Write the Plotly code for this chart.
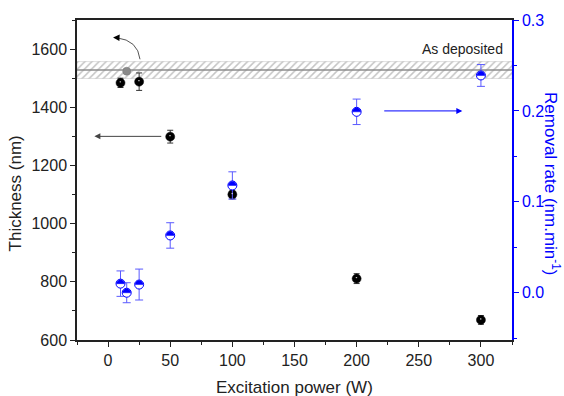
import plotly.graph_objects as go

# ---- data ----
power = [10, 25, 50, 100, 200, 300]
thickness = [1484, 1488, 1299, 1100, 811, 669]
thickness_err = [16, 30, 22, 15, 17, 15]

rate_power = [10, 15, 25, 50, 100, 200, 300]
removal_rate = [0.010, 0.000, 0.009, 0.063, 0.118, 0.199, 0.239]
removal_err = [0.014, 0.011, 0.017, 0.014, 0.015, 0.014, 0.012]

ref_power = [15]
ref_thickness = [1524]

as_deposited = 1528
as_deposited_band = [1499, 1557]
x_range = [-25, 325]

FONT = "Liberation Sans, Arial, sans-serif"
BLUE = "#0000ff"

fig = go.Figure()

# hatched band for "As deposited"
fig.add_trace(go.Scatter(
    x=[x_range[0], x_range[1], x_range[1], x_range[0], x_range[0]],
    y=[as_deposited_band[0], as_deposited_band[0], as_deposited_band[1], as_deposited_band[1], as_deposited_band[0]],
    fill="toself", mode="lines", line=dict(color="rgba(150,150,150,0.6)", width=0.5),
    fillcolor="rgba(255,255,255,0)",
    fillpattern=dict(shape="/", fgcolor="#8a8a8a", bgcolor="white", size=5, solidity=0.3),
    hoverinfo="skip", showlegend=False))
fig.add_trace(go.Scatter(
    x=x_range, y=[as_deposited, as_deposited], mode="lines",
    line=dict(color="#8c8c8c", width=1.5), showlegend=False, hoverinfo="skip"))

# reference (gray) point
fig.add_trace(go.Scatter(
    x=ref_power, y=ref_thickness, mode="markers",
    marker=dict(symbol="circle", size=8, color="#8a8a8a", line=dict(color="#777777", width=0.5)),
    showlegend=False))

# thickness
fig.add_trace(go.Scatter(
    x=power, y=thickness, mode="markers",
    marker=dict(symbol="circle", size=9, color="black", line=dict(color="black", width=0.5)),
    error_y=dict(type="data", array=thickness_err, color="#333333", thickness=1, width=3),
    showlegend=False))

# removal rate
fig.add_trace(go.Scatter(
    x=rate_power, y=removal_rate, mode="markers", yaxis="y2",
    marker=dict(symbol="circle", size=9, color="white", line=dict(color=BLUE, width=1)),
    error_y=dict(type="data", array=removal_err, color="#5a5aff", thickness=1, width=4),
    showlegend=False))

shapes = []
r = 4.0
k = 0.5523 * r
half_path = (f"M {-r},0 C {-r},{k} {-k},{r} 0,{r} C {k},{r} {r},{k} {r},0 Z")
for xv, yv in zip(rate_power, removal_rate):
    shapes.append(dict(type="path", xref="x", yref="y2", xsizemode="pixel", ysizemode="pixel",
                       xanchor=xv, yanchor=yv, path=half_path,
                       fillcolor=BLUE, line=dict(color=BLUE, width=0.5)))
for xv, yv in zip(power, thickness):
    shapes.append(dict(type="circle", xref="x", yref="y", xsizemode="pixel", ysizemode="pixel",
                       xanchor=xv, yanchor=yv, x0=-1, x1=0.6, y0=0.4, y1=1.6,
                       fillcolor="rgba(255,255,255,0.85)", line=dict(width=0)))

# curved arrow near the as-deposited point
shapes.append(dict(type="path", xref="x", yref="y",
                   path="M 25.7,1565 Q 24,1630 7,1639",
                   line=dict(color="#555555", width=1)))

fig.update_layout(shapes=shapes)

annotations = [
    dict(x=4, y=1640, ax=9, ay=1639, xref="x", yref="y", axref="x", ayref="y",
         showarrow=True, arrowhead=2, arrowsize=1.3, arrowwidth=1, arrowcolor="black", text=""),
    dict(x=-11, y=1300, ax=44, ay=1300, xref="x", yref="y", axref="x", ayref="y",
         showarrow=True, arrowhead=2, arrowsize=1.2, arrowwidth=1, arrowcolor="#444444", text=""),
    dict(x=285, y=0.2, ax=221, ay=0.2, xref="x", yref="y2", axref="x", ayref="y2",
         showarrow=True, arrowhead=2, arrowsize=1.2, arrowwidth=1, arrowcolor=BLUE, text=""),
    dict(x=0.984, y=1601, xref="paper", yref="y", xanchor="right", yanchor="middle",
         text="As deposited", showarrow=False, font=dict(family=FONT, size=14, color="#222222")),
    dict(x=0.5, y=-0.1486, xref="paper", yref="paper", xanchor="center", yanchor="middle",
         text="Excitation power (W)", showarrow=False, font=dict(family=FONT, size=17, color="#222222")),
    dict(x=-0.1425, y=0.458, xref="paper", yref="paper", xanchor="center", yanchor="middle",
         text="Thickness (nm)", textangle=-90, showarrow=False,
         font=dict(family=FONT, size=17, color="#222222")),
    dict(x=1.093, y=0.489, xref="paper", yref="paper", xanchor="center", yanchor="middle",
         text="Removal rate (nm.min<sup>-1</sup>)", textangle=90, showarrow=False,
         font=dict(family=FONT, size=17, color=BLUE)),
]
fig.update_layout(annotations=annotations)

fig.update_layout(
    width=564, height=396,
    margin=dict(l=77, r=52, t=17, b=56),
    paper_bgcolor="white", plot_bgcolor="white",
    font=dict(family=FONT, size=16, color="#222222"),
    showlegend=False,
    xaxis=dict(range=x_range, tickvals=[0, 50, 100, 150, 200, 250, 300],
               ticks="outside", ticklen=5, tickwidth=1, tickcolor="#222222",
               showline=True, linecolor="#222222", linewidth=1.5, mirror=True,
               showgrid=False, zeroline=False,
               minor=dict(dtick=25, tick0=0, ticks="outside", ticklen=3, tickcolor="#222222"),
               tickfont=dict(family=FONT, size=16, color="#222222")),
    yaxis=dict(range=[600, 1700], tickvals=[600, 800, 1000, 1200, 1400, 1600],
               ticks="outside", ticklen=5, tickwidth=1, tickcolor="#222222",
               showline=True, linecolor="#222222", linewidth=1.5,
               showgrid=False, zeroline=False,
               minor=dict(dtick=100, tick0=600, ticks="outside", ticklen=3, tickcolor="#222222"),
               tickfont=dict(family=FONT, size=16, color="#222222")),
    yaxis2=dict(range=[-0.052, 0.3], overlaying="y", side="right",
                tickvals=[0.0, 0.1, 0.2, 0.3], ticktext=["0.0", "0.1", "0.2", "0.3"],
                ticks="outside", ticklen=5, tickwidth=1, tickcolor=BLUE,
                showline=True, linecolor=BLUE, linewidth=1.5,
                showgrid=False, zeroline=False,
                minor=dict(dtick=0.05, tick0=0, ticks="outside", ticklen=3, tickcolor=BLUE),
                tickfont=dict(family=FONT, size=16, color=BLUE)),
)

fig.write_html("out.html", config={"displayModeBar": False},
               post_script="document.body.style.margin='0';")
